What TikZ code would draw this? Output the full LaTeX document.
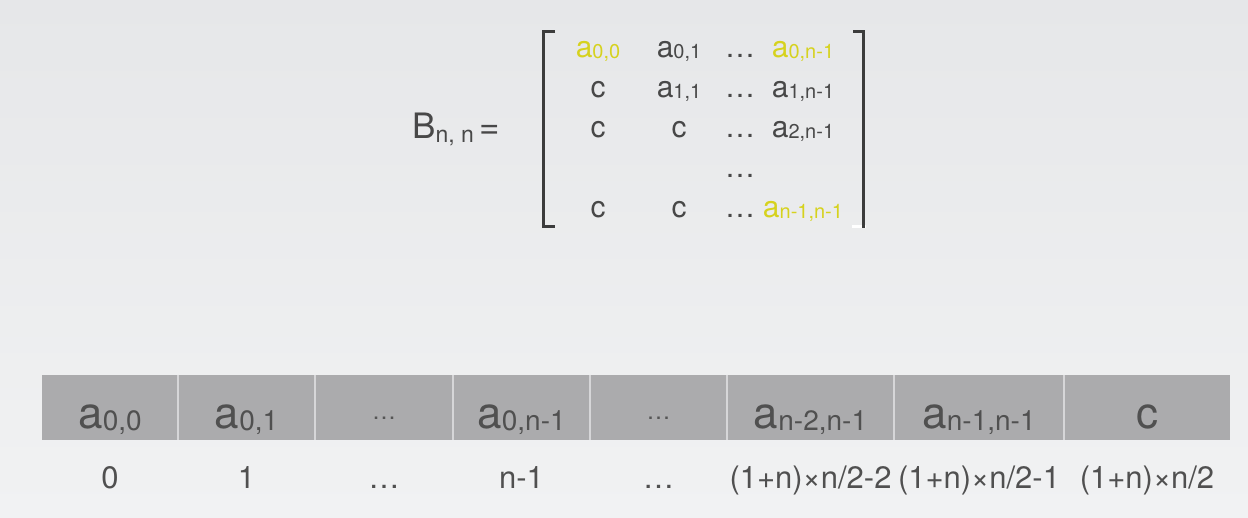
\documentclass[tikz,border=0pt]{standalone}
\usepackage{fontspec}
\setmainfont{TeX Gyre Heros}
\definecolor{bgtop}{HTML}{E6E7E9}
\definecolor{bgbot}{HTML}{F1F2F3}
\definecolor{cellgray}{HTML}{ABABAD}
\definecolor{sepgray}{HTML}{D6D6D8}
\definecolor{txt}{HTML}{505050}
\definecolor{mtxt}{HTML}{484848}
\definecolor{dotgray}{HTML}{555555}
\definecolor{hlyellow}{HTML}{D6D21E}
\definecolor{brk}{HTML}{3C3C3C}
\newcommand\tsub[1]{\raisebox{-2pt}{\fontsize{28}{28}\selectfont #1}}
\newcommand\msub[1]{\raisebox{-1.5pt}{\fontsize{20}{20}\selectfont #1}}
\newcommand\bsub[1]{\raisebox{-4pt}{\fontsize{23}{23}\selectfont #1}}
\tikzset{
  cell/.style={fill=cellgray, minimum height=65pt, inner sep=0pt,
    text height=41pt, text depth=0pt, font=\fontsize{44}{44}\selectfont, text=txt},
  sepline/.style={draw=sepgray, line width=1.5pt},
  lbl/.style={anchor=base, inner sep=0pt, font=\fontsize{31}{31}\selectfont, text=txt},
  mat/.style={anchor=base, inner sep=0pt, font=\fontsize{30}{30}\selectfont, text=mtxt},
  hl/.style={mat, text=hlyellow},
  bracket/.style={draw=brk, line width=3pt, line join=miter}
}
\newcommand\cdotsx{\raisebox{9pt}{\fontsize{24}{24}\selectfont\color{dotgray}…}}
\begin{document}
\begin{tikzpicture}[x=1pt,y=-1pt]
\useasboundingbox (0,0) rectangle (1248,517);
\shade[top color=bgtop, bottom color=bgbot] (0,0) rectangle (1248,517);

% matrix label
\node[anchor=base west, inner sep=0pt, font=\fontsize{35}{35}\selectfont, text=mtxt] (B) at (412,138) {B\bsub{n, n}\kern6pt=};

% brackets
\draw[white, line width=2.5pt] (852,226.5) -- (866,226.5);
\draw[bracket] (555,31) -- (543,31) -- (543,226) -- (555,226);
\draw[bracket] (853,31) -- (863,31) -- (863,227.5);

% matrix entries
\node[hl]  (m00) at (598,57) {a\msub{0,0}};
\node[mat] (m01) at (679,57) {a\msub{0,1}};
\node[mat] (m02) at (740,57) {…};
\node[hl]  (m03) at (803,57) {a\msub{0,n-1}};
\node[mat] (m10) at (598,97) {c};
\node[mat] (m11) at (679,97) {a\msub{1,1}};
\node[mat] (m12) at (740,97) {…};
\node[mat] (m13) at (803,97) {a\msub{1,n-1}};
\node[mat] (m20) at (598,137) {c};
\node[mat] (m21) at (679,137) {c};
\node[mat] (m22) at (740,137) {…};
\node[mat] (m23) at (803,137) {a\msub{2,n-1}};
\node[mat] (m32) at (740,177) {…};
\node[mat] (m40) at (598,217) {c};
\node[mat] (m41) at (679,217) {c};
\node[mat] (m42) at (740,217) {…};
\node[hl]  (m43) at (803,217) {a\msub{n-1,n-1}};

% array cells
\node[cell, minimum width=136pt] (c1) at (110,407.5) {a\tsub{0,0}};
\node[cell, minimum width=137pt] (c2) at (246.5,407.5) {a\tsub{0,1}};
\node[cell, minimum width=138pt] (c3) at (384,407.5) {\cdotsx};
\node[cell, minimum width=137pt] (c4) at (521.5,407.5) {a\tsub{0,n-1}};
\node[cell, minimum width=137pt] (c5) at (658.5,407.5) {\cdotsx};
\node[cell, minimum width=167pt] (c6) at (810.5,407.5) {a\tsub{n-2,n-1}};
\node[cell, minimum width=170pt] (c7) at (979,407.5) {a\tsub{n-1,n-1}};
\node[cell, minimum width=166pt] (c8) at (1147,407.5) {c};
\foreach \i in {1,...,7} {\draw[sepline] (c\i.north east) -- (c\i.south east);}

% index labels
\node[lbl] (l1) at (110,488) {0};
\node[lbl] (l2) at (246.5,488) {1};
\node[lbl] (l3) at (384,488) {…};
\node[lbl] (l4) at (521.5,488) {n-1};
\node[lbl] (l5) at (658.5,488) {…};
\node[lbl] (l6) at (810.5,488) {(1+n)×n/2-2};
\node[lbl] (l7) at (979,488) {(1+n)×n/2-1};
\node[lbl] (l8) at (1147,488) {(1+n)×n/2};
\end{tikzpicture}
\end{document}
